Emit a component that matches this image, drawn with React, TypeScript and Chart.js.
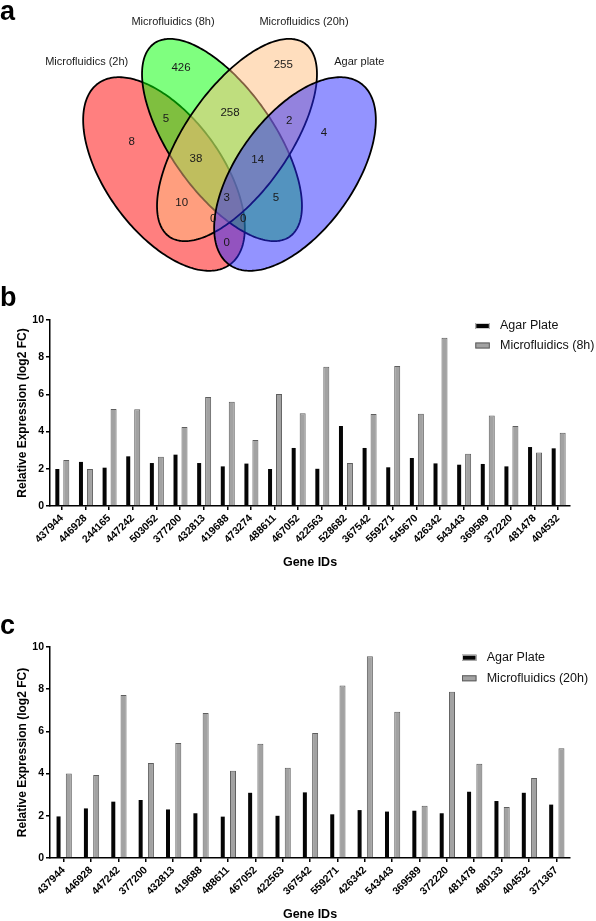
import React, { useEffect, useRef } from "react";
import { Chart, registerables } from "chart.js";

Chart.register(...registerables);

const FONT = "'Liberation Sans', Arial, Helvetica, sans-serif";
Chart.defaults.font.family = FONT;
Chart.defaults.color = "#000";

// ---------------- Panel a : Venn diagram ----------------
const vennSets = ["Microfluidics (2h)", "Microfluidics (8h)", "Microfluidics (20h)", "Agar plate"];
const vennFills = ["rgba(255,0,0,0.5)", "rgba(0,255,0,0.5)", "rgba(255,190,125,0.5)", "rgba(40,40,255,0.5)"];
// ellipse geometry in venn units (x: 0..596, y: 0..290, y downwards)
const ellipseCX = [164, 222, 237, 295];
const ellipseCY = [174, 140, 140, 174];
const ellipseA = [112, 118, 118, 112];
const ellipseB = [58, 52, 52, 58];
const ellipseRot = [54, 55, 125, 126];
// region counts and their label anchors
const regionCounts = [8, 426, 255, 4, 5, 258, 2, 38, 14, 10, 3, 5, 0, 0, 0];
const regionX = [131.7, 181, 283.3, 324, 166, 230, 289.3, 196, 257.7, 181.7, 226.7, 276, 213.3, 243.3, 226.7];
const regionY = [141.7, 68.3, 65, 132.7, 119.3, 113.3, 120.7, 159.3, 160, 203.3, 198.3, 198.3, 219, 219, 243.3];
const setLabelX = [86.7, 173, 304, 359.3];
const setLabelY = [62, 22.3, 22.3, 62];

// ---------------- Panel b ----------------
const categoriesB = ["437944", "446928", "244165", "447242", "503052", "377200", "432813", "419688", "473274", "488611", "467052", "422563", "528682", "367542", "559271", "545670", "426342", "543443", "369589", "372220", "481478", "404532"];
const agarB = [1.99, 2.37, 2.06, 2.67, 2.31, 2.76, 2.31, 2.13, 2.28, 1.99, 3.12, 2.0, 4.3, 3.12, 2.08, 2.58, 2.29, 2.22, 2.26, 2.13, 3.17, 3.1];
const microB = [2.47, 1.99, 5.22, 5.2, 2.65, 4.25, 5.86, 5.61, 3.55, 6.02, 4.98, 7.49, 2.31, 4.95, 7.53, 4.96, 9.05, 2.81, 4.87, 4.3, 2.87, 3.94];

// ---------------- Panel c ----------------
const categoriesC = ["437944", "446928", "447242", "377200", "432813", "419688", "488611", "467052", "422563", "367542", "559271", "426342", "543443", "369589", "372220", "481478", "480133", "404532", "371367"];
const agarC = [1.97, 2.35, 2.67, 2.75, 2.3, 2.12, 1.96, 3.09, 2.0, 3.11, 2.07, 2.27, 2.2, 2.24, 2.12, 3.14, 2.7, 3.09, 2.53];
const microC = [4.0, 3.93, 7.72, 4.5, 5.45, 6.87, 4.14, 5.42, 4.28, 5.92, 8.18, 9.56, 6.93, 2.48, 7.88, 4.47, 2.42, 3.79, 5.2];

const yTicks = [0, 2, 4, 6, 8, 10];

const vennPlugin = {
  id: "vennPlugin",
  beforeDatasetsDraw(chart: any) {
    const { ctx } = chart;
    const xs = chart.scales.x;
    const ys = chart.scales.y;
    ctx.save();
    for (let i = 0; i < ellipseCX.length; i++) {
      const th = (ellipseRot[i] * Math.PI) / 180;
      const c = Math.cos(th);
      const s = Math.sin(th);
      ctx.beginPath();
      const N = 240;
      for (let k = 0; k <= N; k++) {
        const t = (2 * Math.PI * k) / N;
        const ex = ellipseCX[i] + ellipseA[i] * Math.cos(t) * c - ellipseB[i] * Math.sin(t) * s;
        const ey = ellipseCY[i] + ellipseA[i] * Math.cos(t) * s + ellipseB[i] * Math.sin(t) * c;
        const px = xs.getPixelForValue(ex);
        const py = ys.getPixelForValue(ey);
        if (k === 0) ctx.moveTo(px, py);
        else ctx.lineTo(px, py);
      }
      ctx.closePath();
      ctx.fillStyle = vennFills[i];
      ctx.fill();
      ctx.lineWidth = 1.8;
      ctx.strokeStyle = "#000";
      ctx.stroke();
    }
    ctx.restore();
  },
  afterDatasetsDraw(chart: any) {
    const { ctx } = chart;
    ctx.save();
    ctx.textAlign = "center";
    ctx.textBaseline = "middle";
    ctx.fillStyle = "#1a1a1a";
    ctx.font = `11.5px ${FONT}`;
    const m0 = chart.getDatasetMeta(0);
    m0.data.forEach((el: any, i: number) => {
      ctx.fillText(String(regionCounts[i]), el.x, el.y);
    });
    ctx.font = `11px ${FONT}`;
    const m1 = chart.getDatasetMeta(1);
    m1.data.forEach((el: any, i: number) => {
      ctx.fillText(vennSets[i], el.x, el.y);
    });
    ctx.restore();
  },
};

function makeLegendPlugin(dx: number, dy: number, rowGap: number) {
  return {
    id: "boxLegend",
    afterDraw(chart: any) {
      const { ctx, chartArea } = chart;
      ctx.save();
      ctx.font = `12.5px ${FONT}`;
      ctx.textBaseline = "middle";
      ctx.textAlign = "left";
      chart.data.datasets.forEach((ds: any, i: number) => {
        const bx = chartArea.right - dx;
        const cy = chartArea.top + dy + i * rowGap;
        ctx.fillStyle = ds.backgroundColor;
        ctx.fillRect(bx, cy - 3, 14.5, 6);
        ctx.lineWidth = 1;
        ctx.strokeStyle = i === 0 ? "#cfcfcf" : "#5e5e5e";
        ctx.strokeRect(bx + 0.5, cy - 3 + 0.5, 13.5, 5);
        ctx.fillStyle = "#111";
        ctx.fillText(ds.label, bx + 24.7, cy);
      });
      ctx.restore();
    },
  };
}

function barConfig(
  cats: string[],
  agar: number[],
  micro: number[],
  microLabel: string,
  xHeight: number,
  titlePadBottom: number,
  catPct: number,
  blackPct: number,
  grayPct: number,
  legend: any
) {
  return {
    type: "bar" as const,
    data: {
      labels: cats,
      datasets: [
        {
          label: "Agar Plate",
          data: agar,
          backgroundColor: "#050505",
          borderWidth: 0,
          categoryPercentage: catPct,
          barPercentage: blackPct,
        },
        {
          label: microLabel,
          data: micro,
          backgroundColor: "#a2a2a2",
          borderColor: "#5e5e5e",
          borderWidth: 1,
          categoryPercentage: catPct,
          barPercentage: grayPct,
        },
      ],
    },
    options: {
      responsive: false,
      animation: false as const,
      layout: { padding: { top: 20, right: 26, left: 0, bottom: 0 } },
      plugins: { legend: { display: false }, tooltip: { enabled: false } },
      scales: {
        x: {
          grid: { display: true, drawOnChartArea: false, drawTicks: true, tickLength: 4, offset: false, color: "#000", lineWidth: 1.5 },
          border: { display: true, color: "#000", width: 1.5 },
          ticks: { autoSkip: false, minRotation: 45, maxRotation: 45, padding: 2, color: "#000", font: { size: 10.5, weight: "bold" as const } },
          title: {
            display: true,
            text: "Gene IDs",
            color: "#000",
            font: { size: 12.5, weight: "bold" as const, lineHeight: 1 },
            padding: { top: 0, bottom: titlePadBottom },
          },
          afterFit: (s: any) => {
            s.height = xHeight;
          },
        },
        y: {
          min: 0,
          max: 10,
          afterBuildTicks: (s: any) => {
            s.ticks = yTicks.map((v) => ({ value: v }));
          },
          grid: { display: true, drawOnChartArea: false, drawTicks: true, tickLength: 4, color: "#000", lineWidth: 1.5 },
          border: { display: true, color: "#000", width: 1.5 },
          ticks: { padding: 2, color: "#000", font: { size: 10.5, weight: "bold" as const } },
          title: {
            display: true,
            text: "Relative Expression (log2 FC)",
            color: "#000",
            font: { size: 12, weight: "bold" as const, lineHeight: 1 },
            padding: { top: 16.7, bottom: 0 },
          },
          afterFit: (s: any) => {
            s.width = 50;
          },
        },
      },
    },
    plugins: [legend],
  };
}

function VennChart() {
  const ref = useRef<HTMLCanvasElement>(null);
  useEffect(() => {
    if (!ref.current) return;
    const chart = new Chart(ref.current, {
      type: "scatter",
      data: {
        datasets: [
          { data: regionX.map((x, i) => ({ x, y: regionY[i] })), pointRadius: 0 },
          { data: setLabelX.map((x, i) => ({ x, y: setLabelY[i] })), pointRadius: 0 },
        ],
      },
      options: {
        responsive: false,
        animation: false,
        layout: { padding: 0 },
        plugins: { legend: { display: false }, tooltip: { enabled: false } },
        scales: {
          x: { type: "linear", min: 0, max: 596, display: false },
          y: { type: "linear", min: 0, max: 290, reverse: true, display: false },
        },
      },
      plugins: [vennPlugin],
    } as any);
    return () => chart.destroy();
  }, []);
  return <canvas ref={ref} width={596} height={290} style={{ position: "absolute", left: 0, top: 0 }} />;
}

function BarChart(props: { config: any; top: number; height: number }) {
  const ref = useRef<HTMLCanvasElement>(null);
  useEffect(() => {
    if (!ref.current) return;
    const chart = new Chart(ref.current, props.config);
    return () => chart.destroy();
  }, []);
  return <canvas ref={ref} width={596} height={props.height} style={{ position: "absolute", left: 0, top: props.top }} />;
}

const panelLabel = (text: string, top: number) => (
  <div
    style={{
      position: "absolute",
      left: 0,
      top,
      fontFamily: FONT,
      fontWeight: "bold",
      fontSize: 27,
      lineHeight: "27px",
      color: "#000",
    }}
  >
    {text}
  </div>
);

export default function App() {
  const cfgB = barConfig(categoriesB, agarB, microB, "Microfluidics (8h)", 74, 10.75, 0.76, 0.445, 0.67, makeLegendPlugin(94.7, 6, 19.5));
  const cfgC = barConfig(categoriesC, agarC, microC, "Microfluidics (20h)", 63, 0, 0.75, 0.39, 0.585, makeLegendPlugin(108, 10.7, 20.6));
  return (
    <div style={{ position: "absolute", left: 0, top: 0, width: 596, height: 921, background: "#fff", overflow: "hidden" }}>
      <VennChart />
      <BarChart config={cfgB} top={300} height={280} />
      <BarChart config={cfgC} top={627} height={294} />
      {panelLabel("a", -2)}
      {panelLabel("b", 284)}
      {panelLabel("c", 612)}
    </div>
  );
}
